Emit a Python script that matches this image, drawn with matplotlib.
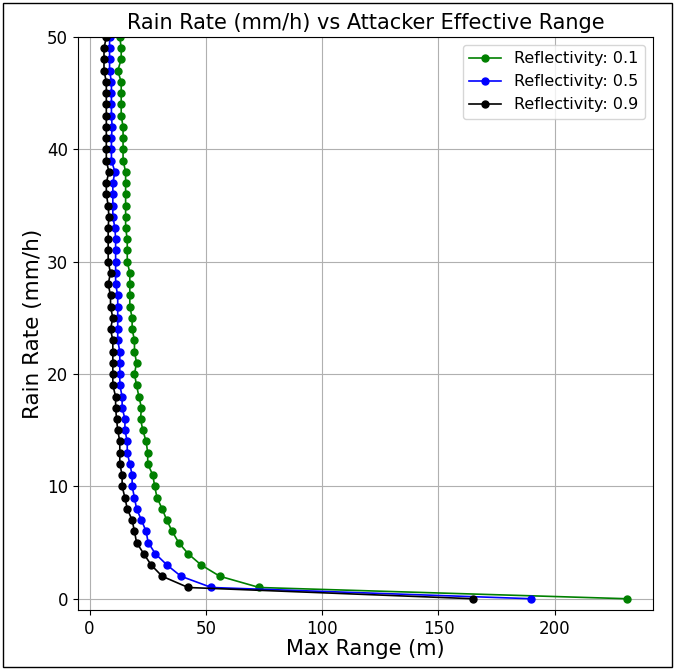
import matplotlib.pyplot as plt
from matplotlib.patches import Rectangle

# rain rate (mm/h) and max range (m) per reflectivity
rain_rate = list(range(0, 51))

range_r01 = [231, 73, 56, 48, 42.4, 38.3, 35.5, 33.2, 31.2, 29.0,
             28.0, 27.2, 25.0, 25.0, 24.3, 22.9, 21.9, 22.3, 21.2, 20.2,
             19.3, 20.2, 19.3, 19.3, 18.3, 18.3, 17.3, 17.3, 17.3, 17.3,
             16.2, 16.2, 16.2, 15.5, 15.5, 15.5, 15.5, 15.5, 15.5, 14.4,
             14.4, 14.4, 14.4, 13.6, 13.6, 13.6, 13.6, 12.1, 13.6, 13.6,
             13.0]
range_r05 = [190, 52.4, 39.3, 33.3, 28.3, 25.2, 24.3, 22.3, 20.2, 19.3,
             18.3, 18.3, 17.3, 16.2, 16.2, 15.2, 15.2, 14.0, 14.0, 13.0,
             13.0, 13.0, 13.0, 12.1, 12.1, 12.1, 12.1, 12.1, 11.2, 11.2,
             11.2, 11.2, 11.2, 10.9, 10.0, 10.0, 10.0, 10.0, 10.9, 9.4,
             9.4, 9.4, 9.7, 9.4, 9.4, 9.4, 9.4, 8.6, 8.6, 8.6,
             8.6]
range_r09 = [165, 42.4, 31.2, 26.5, 23.3, 20.2, 19.3, 18.3, 16.2, 15.2,
             14.0, 14.0, 13.0, 13.0, 13.0, 12.1, 11.6, 11.2, 11.2, 10.0,
             10.0, 10.0, 10.0, 10.0, 9.0, 10.0, 9.0, 9.0, 8.0, 9.0,
             8.0, 8.0, 8.0, 8.0, 8.3, 8.0, 7.2, 7.2, 8.3, 7.2,
             7.2, 7.2, 7.2, 7.2, 7.2, 7.2, 7.2, 6.2, 6.2, 6.2,
             7.2]

series = [('Reflectivity: 0.1', range_r01, 'green'),
          ('Reflectivity: 0.5', range_r05, 'blue'),
          ('Reflectivity: 0.9', range_r09, 'black')]

fig = plt.figure(figsize=(6.77, 6.70), dpi=100)
ax = fig.add_axes([0.115, 0.0896, 0.8495, 0.8552])

for label, vals, color in series:
    ax.plot(vals, rain_rate, marker='o', markersize=5, linewidth=1.2,
            color=color, label=label)

ax.set_ylim(-1, 50)
ax.set_title('Rain Rate (mm/h) vs Attacker Effective Range', fontsize=15)
ax.set_xlabel('Max Range (m)', fontsize=15, labelpad=1)
ax.set_ylabel('Rain Rate (mm/h)', fontsize=15.5, labelpad=3)
ax.tick_params(labelsize=12)
ax.grid(True)
ax.legend(loc='upper right', fontsize=11.5)

# outer frame around the whole figure
fig.patches.append(Rectangle((3 / 677, 3 / 670), 669 / 677, 664 / 670,
                             transform=fig.transFigure, fill=False,
                             edgecolor='black', linewidth=1))

plt.savefig('out.png', dpi=100)
